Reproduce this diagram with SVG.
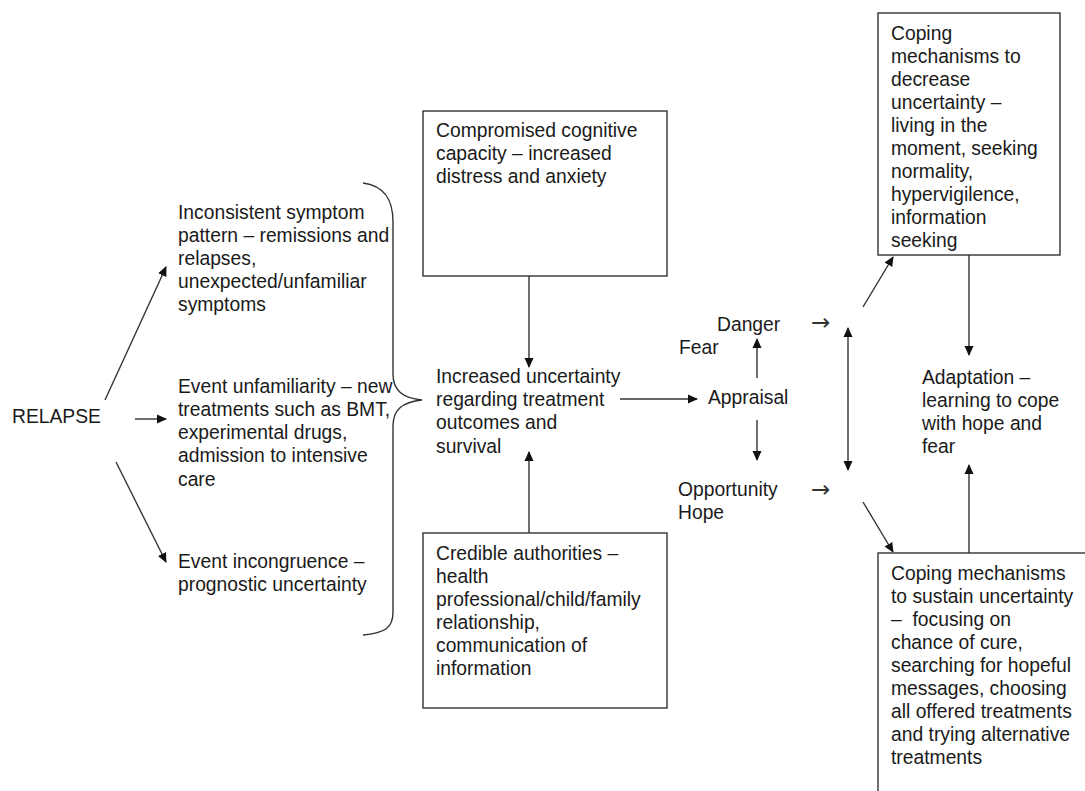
<svg xmlns="http://www.w3.org/2000/svg" width="1085" height="791" viewBox="0 0 1085 791">
  <style>
    text { font-family: "Liberation Sans", Arial, sans-serif; font-size: 19.3px; fill: #1a1a1a; }
    .pre { white-space: pre; }
    .box { fill: #fff; stroke: #333; stroke-width: 1.4; }
    .edge { fill: none; stroke: #333; stroke-width: 1.4; }
    .arrow { marker-end: url(#head); }
    .both { marker-start: url(#head); marker-end: url(#head); }
    .glyph { font-family: "DejaVu Sans", sans-serif; font-size: 23px; fill: #333; }
  </style>
  <defs>
    <marker id="head" viewBox="0 0 10 10" refX="9" refY="5" markerWidth="10" markerHeight="10" markerUnits="userSpaceOnUse" orient="auto-start-reverse">
      <path d="M0,0.5 L10,5 L0,9.5 z" fill="#111"/>
    </marker>
  </defs>
  <rect width="1085" height="791" fill="#fff"/>

  <!-- connectors -->
  <g id="connectors">
    <line class="edge arrow" x1="105" y1="400" x2="166" y2="267"/>
    <line class="edge arrow" x1="135" y1="419" x2="166" y2="419"/>
    <line class="edge arrow" x1="116" y1="462" x2="166" y2="562"/>
    <!-- brace gathering the three triggers -->
    <path class="edge" d="M363,183 C385,186 393,200 393,222 L393,374 C393,390 402,398 422,400 C402,402 393,410 393,426 L393,612 C393,628 385,633 363,635"/>
    <line class="edge arrow" x1="529" y1="276" x2="529" y2="367"/>
    <line class="edge arrow" x1="529" y1="533" x2="529" y2="452"/>
    <line class="edge arrow" x1="620" y1="399" x2="697" y2="399"/>
    <line class="edge arrow" x1="757" y1="378" x2="757" y2="339"/>
    <line class="edge arrow" x1="757" y1="420" x2="757" y2="460"/>
    <line class="edge both" x1="848" y1="328" x2="848" y2="470"/>
    <line class="edge arrow" x1="863" y1="307" x2="893" y2="257"/>
    <line class="edge arrow" x1="863" y1="502" x2="893" y2="552"/>
    <line class="edge arrow" x1="969" y1="255" x2="969" y2="355"/>
    <line class="edge arrow" x1="969" y1="553" x2="969" y2="465"/>
    <text class="glyph" x="811" y="330">→</text>
    <text class="glyph" x="811" y="497">→</text>
  </g>

  <g id="relapse">
    <text x="12" y="423">RELAPSE</text>
  </g>

  <g id="inconsistent-symptoms">
    <text x="178" y="219">Inconsistent symptom</text>
    <text x="178" y="242">pattern – remissions and</text>
    <text x="178" y="265">relapses,</text>
    <text x="178" y="288">unexpected/unfamiliar</text>
    <text x="178" y="311">symptoms</text>
  </g>

  <g id="event-unfamiliarity">
    <text x="178" y="393">Event unfamiliarity – new</text>
    <text x="178" y="416">treatments such as BMT,</text>
    <text x="178" y="439">experimental drugs,</text>
    <text x="178" y="462">admission to intensive</text>
    <text x="178" y="486">care</text>
  </g>

  <g id="event-incongruence">
    <text x="178" y="568">Event incongruence –</text>
    <text x="178" y="591">prognostic uncertainty</text>
  </g>

  <g id="cognitive-capacity">
    <rect class="box" x="423" y="111" width="244" height="165"/>
    <text x="436" y="137">Compromised cognitive</text>
    <text x="436" y="160">capacity – increased</text>
    <text x="436" y="183">distress and anxiety</text>
  </g>

  <g id="increased-uncertainty">
    <text x="436" y="383">Increased uncertainty</text>
    <text x="436" y="406">regarding treatment</text>
    <text x="436" y="429">outcomes and</text>
    <text x="436" y="453">survival</text>
  </g>

  <g id="credible-authorities">
    <rect class="box" x="423" y="533" width="244" height="175"/>
    <text x="436" y="560">Credible authorities –</text>
    <text x="436" y="583">health</text>
    <text x="436" y="606">professional/child/family</text>
    <text x="436" y="629">relationship,</text>
    <text x="436" y="652">communication of</text>
    <text x="436" y="675">information</text>
  </g>

  <g id="appraisal">
    <text x="708" y="404">Appraisal</text>
  </g>

  <g id="danger-fear">
    <text x="717" y="331">Danger</text>
    <text x="679" y="354">Fear</text>
  </g>

  <g id="opportunity-hope">
    <text x="678" y="496">Opportunity</text>
    <text x="678" y="519">Hope</text>
  </g>

  <g id="decrease-uncertainty">
    <rect class="box" x="878" y="13" width="182" height="242"/>
    <text x="891" y="40">Coping</text>
    <text x="891" y="63">mechanisms to</text>
    <text x="891" y="86">decrease</text>
    <text x="891" y="109">uncertainty –</text>
    <text x="891" y="132">living in the</text>
    <text x="891" y="155">moment, seeking</text>
    <text x="891" y="178">normality,</text>
    <text x="891" y="201">hypervigilence,</text>
    <text x="891" y="224">information</text>
    <text x="891" y="247">seeking</text>
  </g>

  <g id="adaptation">
    <text x="922" y="384">Adaptation –</text>
    <text x="922" y="407">learning to cope</text>
    <text x="922" y="430">with hope and</text>
    <text x="922" y="453">fear</text>
  </g>

  <g id="sustain-uncertainty">
    <rect class="box" x="878" y="553" width="230" height="260"/>
    <text x="891" y="580">Coping mechanisms</text>
    <text x="891" y="603">to sustain uncertainty</text>
    <text class="pre" x="891" y="626">–  focusing on</text>
    <text x="891" y="649">chance of cure,</text>
    <text x="891" y="672">searching for hopeful</text>
    <text x="891" y="695">messages, choosing</text>
    <text x="891" y="718">all offered treatments</text>
    <text x="891" y="741">and trying alternative</text>
    <text x="891" y="764">treatments</text>
  </g>
</svg>
